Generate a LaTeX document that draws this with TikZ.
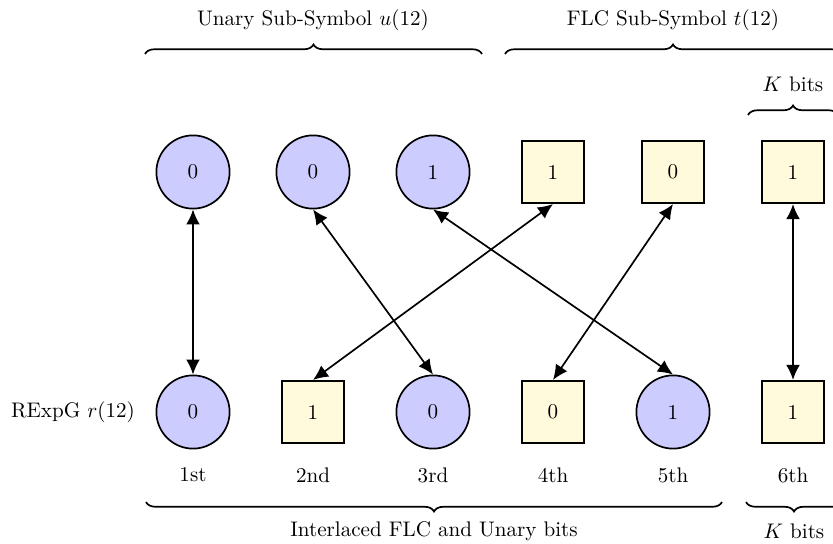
\documentclass[tikz,border=0pt]{standalone}
\usetikzlibrary{decorations.pathreplacing,arrows.meta}
\definecolor{unaryfill}{rgb}{0.8,0.8,1}
\definecolor{flcfill}{RGB}{255,250,220}
\tikzset{
  ubit/.style={circle, draw, thick, fill=unaryfill, minimum size=1.22cm, inner sep=0pt},
  fbit/.style={rectangle, draw, thick, fill=flcfill, minimum size=1.04cm, inner sep=0pt},
  link/.style={thick, {Latex[length=2.5mm,width=2.3mm]}-{Latex[length=2.5mm,width=2.3mm]}},
  bracetop/.style={thick, decorate, decoration={brace, amplitude=4.5pt}},
  lbl/.style={inner sep=0pt, anchor=center}
}
\begin{document}
\begin{tikzpicture}[x=0.016667cm, y=-0.016667cm]
  \useasboundingbox (0,0) rectangle (833,543);
  \clip (0,0) rectangle (833,543);

  % sub-symbols before interlacing
  \node[ubit] (t1) at (193,172) {0};
  \node[ubit] (t2) at (313,172) {0};
  \node[ubit] (t3) at (433,172) {1};
  \node[fbit] (t4) at (553,172) {1};
  \node[fbit] (t5) at (673,172) {0};
  \node[fbit] (t6) at (793,172) {1};

  % interlaced code word
  \node[ubit] (b1) at (193,412) {0};
  \node[fbit] (b2) at (313,412) {1};
  \node[ubit] (b3) at (433,412) {0};
  \node[fbit] (b4) at (553,412) {0};
  \node[ubit] (b5) at (673,412) {1};
  \node[fbit] (b6) at (793,412) {1};

  \node[lbl] (rlab) at (73,412) {RExpG $r(12)$};

  \node[lbl] (o1) at (193,475) {1st};
  \node[lbl] (o2) at (313,475) {2nd};
  \node[lbl] (o3) at (433,475) {3rd};
  \node[lbl] (o4) at (553,475) {4th};
  \node[lbl] (o5) at (673,475) {5th};
  \node[lbl] (o6) at (793,475) {6th};

  % bit mapping
  \draw[link] (b1.north) -- (t1.south);
  \draw[link] (b2.north) -- (t4.south);
  \draw[link] (b3.north) -- (t2.south);
  \draw[link] (b4.north) -- (t5.south);
  \draw[link] (b5.north) -- (t3.south);
  \draw[link] (b6.north) -- (t6.south);

  % braces above
  \draw[bracetop] (145,54) -- (482,54);
  \draw[bracetop] (505,54) -- (841,54);
  \draw[bracetop] (748,115) -- (838,115);
  \node[lbl] (ulab) at (313,20) {Unary Sub-Symbol $u(12)$};
  \node[lbl] (flab) at (673,20) {FLC Sub-Symbol $t(12)$};
  \node[lbl] (ktop) at (793,84) {$K$ bits};

  % braces below
  \draw[bracetop] (722,502) -- (146,502);
  \draw[bracetop] (842,502) -- (746,502);
  \node[lbl] (ilab) at (434,531) {Interlaced FLC and Unary bits};
  \node[lbl] (kbot) at (794,531) {$K$ bits};
\end{tikzpicture}
\end{document}
